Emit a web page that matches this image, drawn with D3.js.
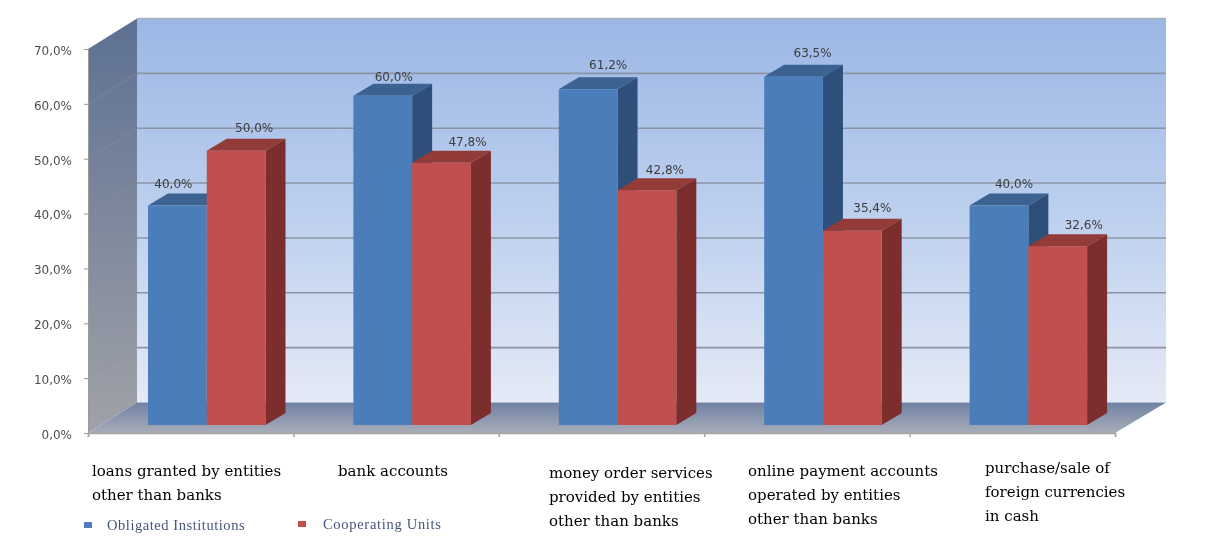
<!DOCTYPE html>
<html><head><meta charset="utf-8">
<script src="https://cdn.jsdelivr.net/npm/d3@7"></script>
<style>html,body{margin:0;padding:0;background:#fff}svg{display:block}</style>
</head><body><svg id="c" width="1211" height="542"></svg>
<script>
const categories = ["loans granted by entities other than banks","bank accounts","money order services provided by entities other than banks","online payment accounts operated by entities other than banks","purchase/sale of foreign currencies in cash"];
const categoryLines = [["loans granted by entities","other than banks"],["bank accounts"],["money order services","provided by entities","other than banks"],["online payment accounts","operated by entities","other than banks"],["purchase/sale of","foreign currencies","in cash"]];
const obligated = [40.0,60.0,61.2,63.5,40.0];
const cooperating = [50.0,47.8,42.8,35.4,32.6];
const valueLabels = [["40,0%","60,0%","61,2%","63,5%","40,0%"],["50,0%","47,8%","42,8%","35,4%","32,6%"]];
const seriesNames = ["Obligated Institutions","Cooperating Units"];
const ticks = [0,10,20,30,40,50,60,70];
const tickLabels = ["0,0%","10,0%","20,0%","30,0%","40,0%","50,0%","60,0%","70,0%"];

const seriesColors = [{f:"#4c7dbb",t:"#3a6290",s:"#2f5079"},{f:"#c0504d",t:"#933a37",s:"#7b2f2d"}];
// hand-placed value label nudges, relative to each bar's front-top centre
const labelNudgeX = [[-4,11,20,19,15],[18,26,18,20,26]];
const labelNudgeY = [[-18,-15,-20,-20,-18],[-19,-17,-16,-19,-17]];

const svg = d3.select("#c");
const defs = svg.append("defs");
function grad(id,stops){const g=defs.append("linearGradient").attr("id",id).attr("x1",0).attr("y1",0).attr("x2",0).attr("y2",1);
  stops.forEach(([o,c])=>g.append("stop").attr("offset",o).attr("stop-color",c));}
grad("wall",[[0,"#9cb7e5"],[0.5,"#bccfee"],[1,"#e4eaf6"]]);
grad("side",[[0,"#5d7092"],[1,"#a0a2a8"]]);
grad("floor",[[0,"#6f82a4"],[1,"#a8acb8"]]);
defs.append("filter").attr("id","soft").append("feGaussianBlur").attr("stdDeviation",0.6);

const root = svg.append("g").attr("filter","url(#soft)");
const dx=49, dy=-30.5, bdx=20, bdy=-12;
const y = d3.scaleLinear().domain([0,70]).range([433,49]);
const x = d3.scaleBand().domain(d3.range(categories.length)).range([88,1115]);
const xs = d3.scaleBand().domain([0,1]).range([60,60+117.5]);
const x0=88,x1=1115,yB=y(0),yT=y(70);
const pts=a=>a.map(p=>p.join(",")).join(" ");

// walls
root.append("polygon").attr("points",pts([[x0,yT],[x0+dx,yT+dy],[x0+dx,yB+dy],[x0,yB]])).attr("fill","url(#side)");
root.append("rect").attr("x",x0+dx).attr("y",yT+dy).attr("width",x1-x0+2).attr("height",yB-yT).attr("fill","url(#wall)");
root.append("line").attr("x1",x0+dx).attr("x2",x1+dx+2).attr("y1",yT+dy).attr("y2",yT+dy).attr("stroke","#a9b1bd").attr("stroke-width",1.5);
root.append("polygon").attr("points",pts([[x0,yB],[x0+dx,yB+dy],[x1+dx+2,yB+dy],[x1,yB]])).attr("fill","url(#floor)");

// gridlines: back wall strong, side wall faint
ticks.filter(t=>t>0&&t<70).forEach(t=>{
  root.append("line").attr("x1",x0+dx).attr("x2",x1+dx+2).attr("y1",y(t)+dy).attr("y2",y(t)+dy)
    .attr("stroke","#8a94a6").attr("stroke-width",1.6);
  root.append("line").attr("x1",x0).attr("x2",x0+dx).attr("y1",y(t)).attr("y2",y(t)+dy)
    .attr("stroke","#8d8f92").attr("stroke-opacity",0.55).attr("stroke-width",1);
});

// axes
const axisG = root.append("g").attr("transform",`translate(${x0},0)`)
  .call(d3.axisLeft(y).tickValues(ticks).tickFormat((d,i)=>tickLabels[i]).tickSize(4).tickPadding(12));
axisG.selectAll("text").attr("font-family","'DejaVu Sans',sans-serif").attr("font-size",12).attr("fill","#4e4e4e").attr("dy","0.45em");
axisG.selectAll("line,path").attr("stroke","#9a9a9a");
const xAxis = root.append("g").attr("transform",`translate(0,${yB})`)
  .call(d3.axisBottom(d3.scaleLinear().domain([0,5]).range([x0,x1])).ticks(5).tickFormat("").tickSize(4));
xAxis.selectAll("line,path").attr("stroke","#a5a5a5").attr("stroke-width",1.5);

// bars
const barBase = v => y(v)-8;
[obligated,cooperating].forEach((vals,si)=>{
  const c=seriesColors[si];
  vals.forEach((v,i)=>{
    const l=x(i)+xs(si), r=l+xs.bandwidth(), t=barBase(v), b=barBase(0);
    const g=root.append("g");
    g.append("polygon").attr("points",pts([[r,t],[r+bdx,t+bdy],[r+bdx,b+bdy],[r,b]])).attr("fill",c.s);
    g.append("polygon").attr("points",pts([[l,t],[l+bdx,t+bdy],[r+bdx,t+bdy],[r,t]])).attr("fill",c.t);
    g.append("rect").attr("x",l).attr("y",t).attr("width",xs.bandwidth()).attr("height",b-t).attr("fill",c.f);
  });
});
// value labels
[obligated,cooperating].forEach((vals,si)=>{
  vals.forEach((v,i)=>{
    root.append("text")
      .attr("x",x(i)+xs(si)+xs.bandwidth()/2+labelNudgeX[si][i])
      .attr("y",barBase(v)+labelNudgeY[si][i])
      .attr("text-anchor","middle").attr("font-family","'DejaVu Sans',sans-serif").attr("font-size",12).attr("fill","#3c3c3c")
      .text(valueLabels[si][i]);
  });
});

// category labels
const labelX=[92,338,549,748,985], labelY=[476,476,478,476,473];
categoryLines.forEach((ls,i)=>{
  const t=root.append("text").attr("font-family","'DejaVu Serif',serif").attr("font-size",15).attr("fill","#000");
  ls.forEach((s,k)=>t.append("tspan").attr("x",labelX[i]).attr("y",labelY[i]+k*24).text(s));
});

// legend
const legX=[84,298], legTX=[107,323], legY=[525,524];
seriesNames.forEach((n,i)=>{
  root.append("rect").attr("x",legX[i]).attr("y",legY[i]-3).attr("width",8).attr("height",6).attr("fill",seriesColors[i].f);
  root.append("text").attr("x",legTX[i]).attr("y",legY[i]+5).attr("font-family","'Liberation Serif',serif").attr("font-size",14.5).attr("letter-spacing",i?0.7:0.55).attr("fill","#46557c").text(n);
});
</script></body></html>
